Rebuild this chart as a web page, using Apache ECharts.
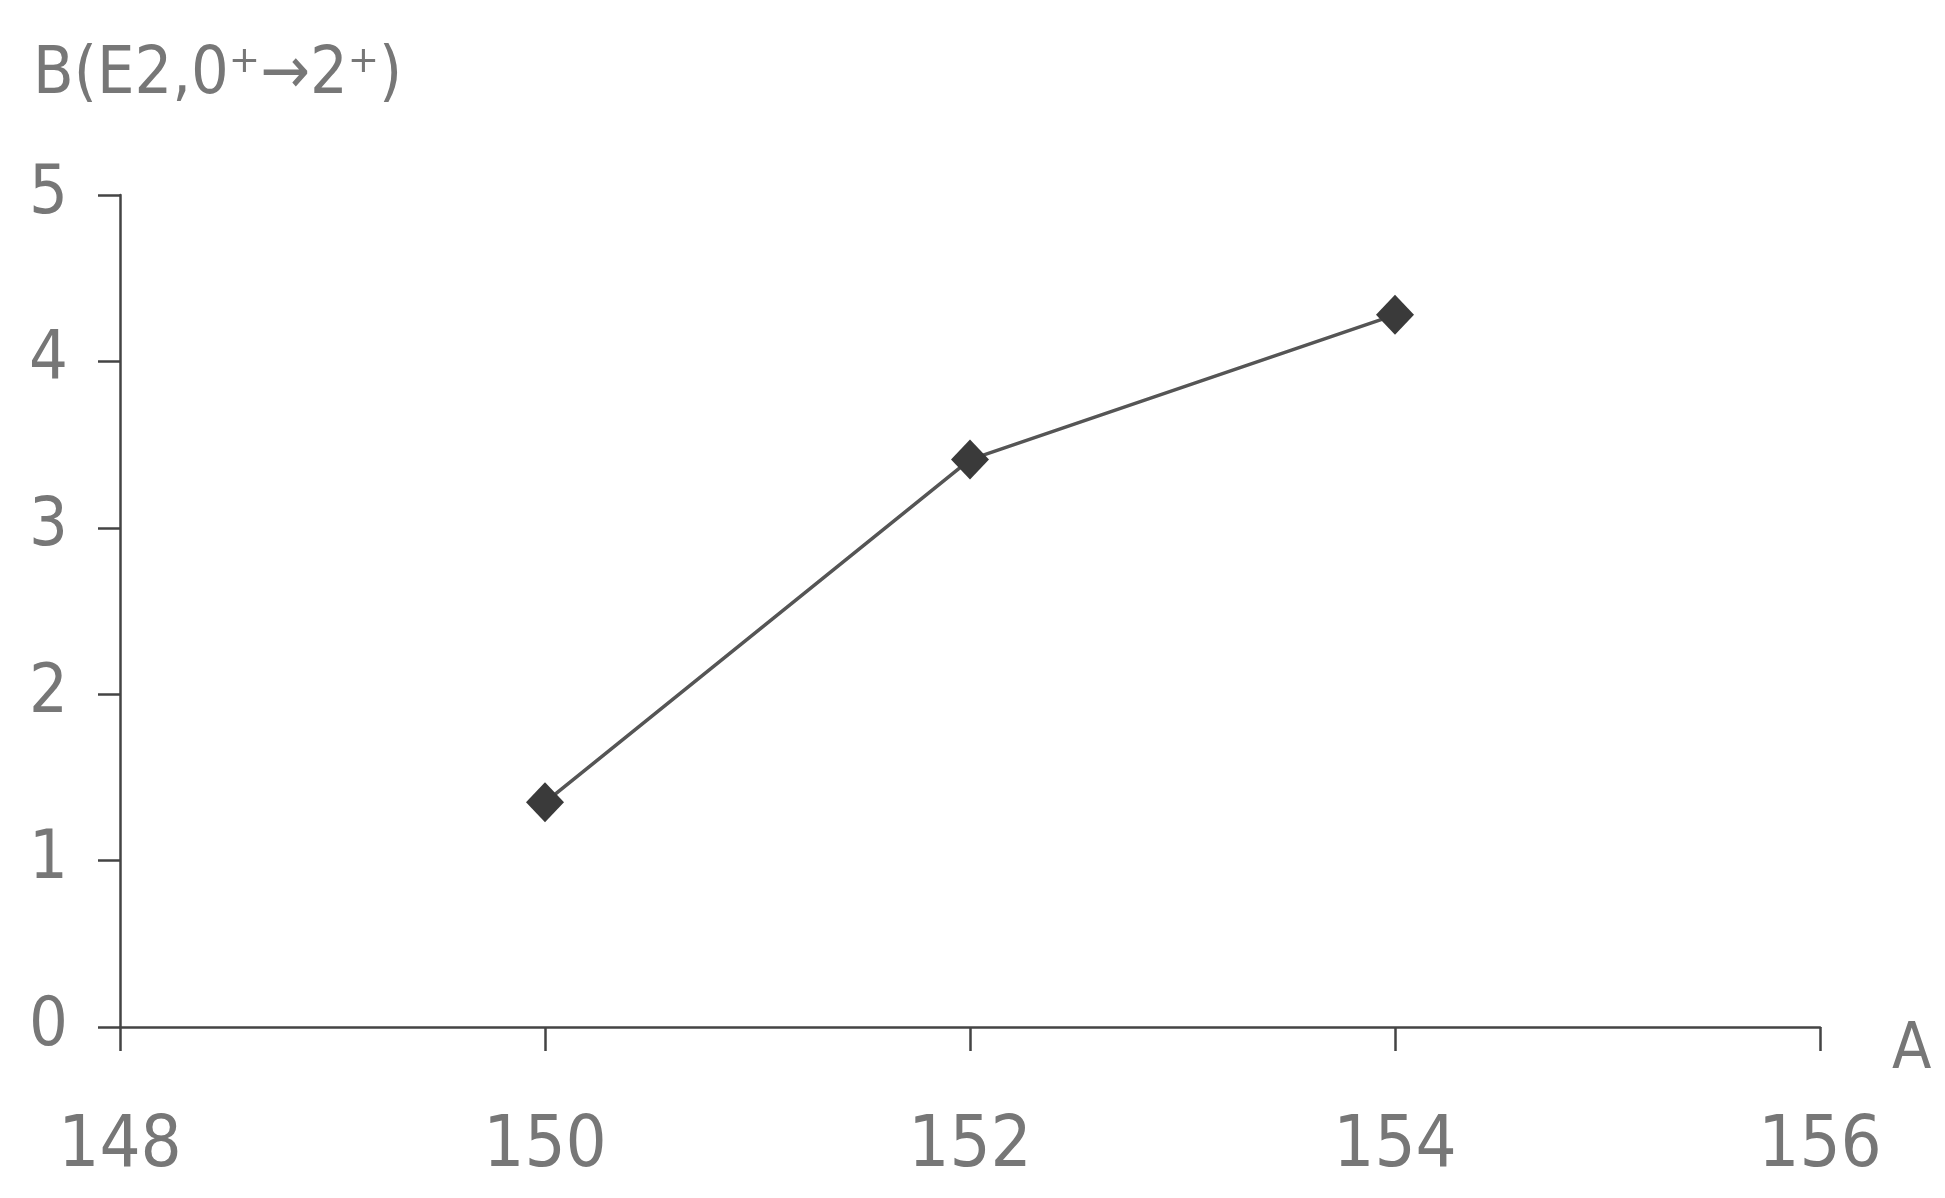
<!DOCTYPE html>
<html>
<head>
<meta charset="utf-8">
<script src="https://cdn.jsdelivr.net/npm/echarts@6/dist/echarts.min.js"></script>
<style>
    html, body { margin: 0; padding: 0; background: #fff; }
    #chart { width: 1945px; height: 1198px; }
</style>
</head>
<body>
<div id="chart"></div>
<script>
    // mass number A vs B(E2, 0+ -> 2+)
    var massNumbers = [150, 152, 154];
    var be2Values = [1.35, 3.41, 4.28];
    var titleText = 'B(E2,0⁺→2⁺)';

    var labelFont = '"Liberation Sans Narrow", "DejaVu Sans Condensed", sans-serif';
    var inkGray = '#777';
    var axisGray = '#444';

    var chart = echarts.init(document.getElementById('chart'));

    var points = [];
    for (var i = 0; i < massNumbers.length; i++) {
        points.push([massNumbers[i], be2Values[i]]);
    }

    chart.setOption({
        animation: false,
        backgroundColor: '#fff',
        title: {
            text: titleText,
            left: 28,
            top: 38,
            textStyle: {
                fontFamily: labelFont,
                fontSize: 66,
                fontWeight: 'normal',
                color: inkGray
            }
        },
        grid: {
            left: 120,
            right: 125,
            top: 195,
            bottom: 171,
            containLabel: false
        },
        xAxis: {
            type: 'value',
            min: 148,
            max: 156,
            interval: 2,
            name: 'A',
            nameLocation: 'end',
            nameGap: 72,
            nameTextStyle: {
                fontFamily: labelFont,
                fontSize: 64,
                color: inkGray,
                verticalAlign: 'top',
                padding: [-8, 0, 0, 0]
            },
            axisLine: { lineStyle: { color: axisGray, width: 2.5 } },
            axisTick: { show: true, length: 24, lineStyle: { color: axisGray, width: 2.5 } },
            axisLabel: {
                margin: 84,
                fontFamily: labelFont,
                fontSize: 72,
                color: inkGray
            },
            splitLine: { show: false }
        },
        yAxis: {
            type: 'value',
            min: 0,
            max: 5,
            interval: 1,
            axisLine: { show: true, lineStyle: { color: axisGray, width: 2.5 } },
            axisTick: { show: true, length: 22, lineStyle: { color: axisGray, width: 2.5 } },
            axisLabel: {
                margin: 52,
                fontFamily: labelFont,
                fontSize: 68,
                color: inkGray
            },
            splitLine: { show: false }
        },
        series: [
            {
                type: 'line',
                data: points,
                symbol: 'diamond',
                symbolSize: [38, 40],
                itemStyle: { color: '#3a3a3a' },
                lineStyle: { color: '#555', width: 3.5 }
            }
        ]
    });
</script>
</body>
</html>
